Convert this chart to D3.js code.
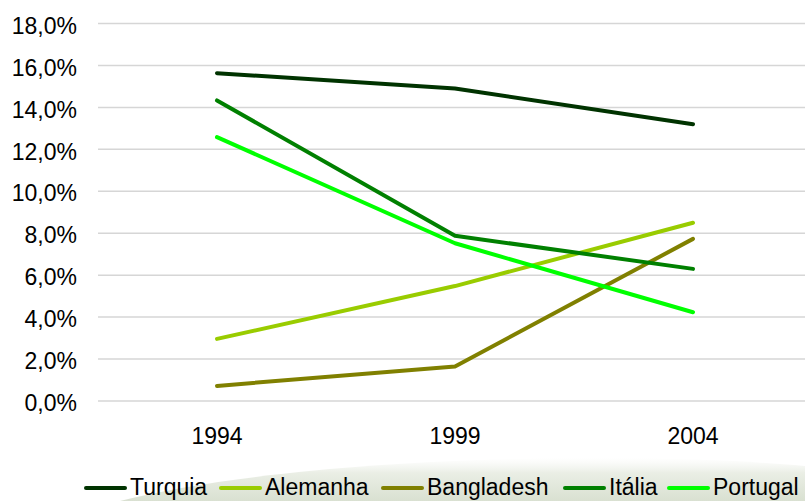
<!DOCTYPE html>
<html>
<head>
<meta charset="utf-8">
<script src="https://cdn.jsdelivr.net/npm/d3@7"></script>
<style>
  body { margin: 0; background: #fff; }
  svg { display: block; font-family: "Liberation Sans", Arial, sans-serif; }
</style>
</head>
<body>
<script>
const years = ['1994', '1999', '2004']
const countries = ['Turquia', 'Alemanha', 'Bangladesh', 'Itália', 'Portugal']
const colors = ['#003300', '#99cc00', '#808000', '#008000', '#00ff00']
const turquia = [15.63, 14.9, 13.2]
const alemanha = [2.96, 5.48, 8.5]
const bangladesh = [0.72, 1.65, 7.73]
const italia = [14.33, 7.88, 6.3]
const portugal = [12.58, 7.52, 4.23]
const yTicks = [0, 2, 4, 6, 8, 10, 12, 14, 16, 18]

const series = [turquia, alemanha, bangladesh, italia, portugal]

const W = 805, H = 501
const svg = d3.select('body').append('svg').attr('width', W).attr('height', H)

// faint landscape-like shading at bottom
const defs = svg.append('defs')
const grad = defs.append('linearGradient').attr('id', 'bg').attr('x1', 0).attr('y1', 0).attr('x2', 0).attr('y2', 1)
grad.append('stop').attr('offset', '0%').attr('stop-color', '#f2f4ef').attr('stop-opacity', 0)
grad.append('stop').attr('offset', '35%').attr('stop-color', '#eaeee5').attr('stop-opacity', 1)
grad.append('stop').attr('offset', '100%').attr('stop-color', '#d9e0d1').attr('stop-opacity', 1)
svg.append('path')
	.attr('d', 'M120,501 C280,460 600,448 805,466 L805,501 Z')
	.attr('fill', 'url(#bg)')

const x = d3.scaleBand().domain(years).range([98, 812])
const y = d3.scaleLinear().domain([0, 18]).range([401, 23.5])

// gridlines
svg.append('g')
	.selectAll('line')
	.data(yTicks)
	.enter().append('line')
		.attr('x1', 98).attr('x2', W)
		.attr('y1', (d) => y(d)).attr('y2', (d) => y(d))
		.attr('stroke', '#d6d6d6').attr('stroke-width', 1.5)

const yAxis = d3.axisLeft(y).tickValues(yTicks).tickSize(0).tickPadding(0)
	.tickFormat((d) => d.toFixed(1).replace('.', ',') + '%')
const gy = svg.append('g').attr('transform', 'translate(77,0)').call(yAxis)
gy.select('.domain').remove()
gy.selectAll('text').attr('font-size', 23).attr('dy', '0.42em').attr('fill', '#000').attr('font-family', '"Liberation Sans", Arial, sans-serif')

const xAxis = d3.axisBottom(x).tickSize(0).tickPadding(0)
const gx = svg.append('g').attr('transform', 'translate(0,428)').call(xAxis)
gx.select('.domain').remove()
gx.selectAll('text').attr('font-size', 23).attr('fill', '#000').attr('font-family', '"Liberation Sans", Arial, sans-serif')

const line = d3.line()
	.x((d, i) => x(years[i]) + x.bandwidth() / 2)
	.y((d) => y(d))

svg.selectAll('path.series')
	.data(series)
	.enter().append('path')
		.attr('class', 'series')
		.attr('d', line)
		.attr('fill', 'none')
		.attr('stroke', (d, i) => colors[i])
		.attr('stroke-width', 4)
		.attr('stroke-linecap', 'round')
		.attr('stroke-linejoin', 'round')

// legend
const legendX = [86, 221, 383, 565, 669]
const lg = svg.append('g').selectAll('g')
	.data(countries)
	.enter().append('g')
		.attr('transform', (d, i) => 'translate(' + legendX[i] + ',488)')
lg.append('line')
	.attr('x1', 0).attr('x2', 39).attr('y1', 0).attr('y2', 0)
	.attr('stroke', (d, i) => colors[i]).attr('stroke-width', 4).attr('stroke-linecap', 'round')
lg.append('text')
	.attr('x', 44).attr('dy', '0.32em')
	.attr('font-size', 23)
	.text((d) => d)
</script>
</body>
</html>
